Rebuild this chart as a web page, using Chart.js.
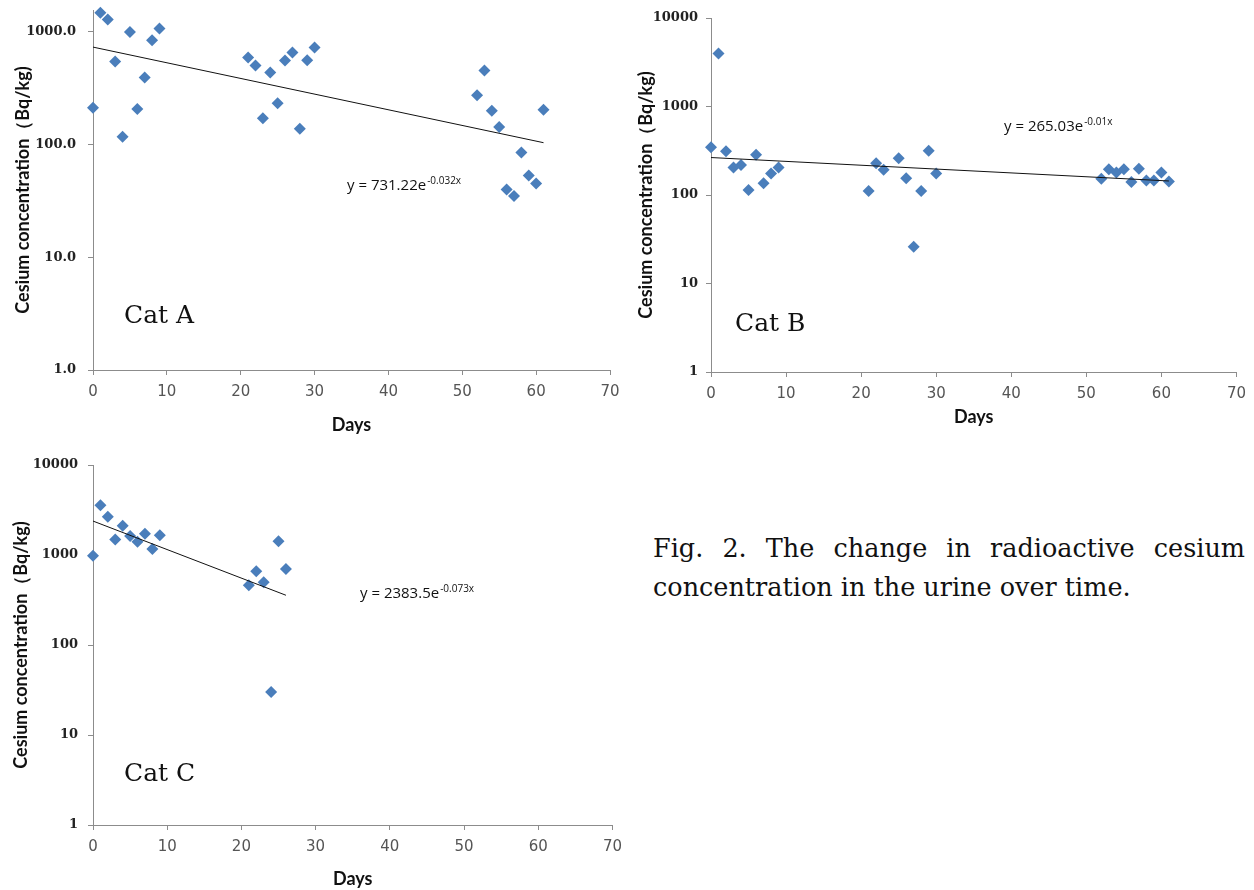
<!DOCTYPE html>
<html lang="en">
<head>
    <meta charset="UTF-8">
    <title>Cesium concentration in urine</title>
    <style>
        body { margin: 0; background: #fff; width: 1254px; height: 890px; position: relative; overflow: hidden; }
        .box { position: absolute; }
        #boxA { left: 0; top: 0; width: 630px; height: 440px; }
        #boxB { left: 630px; top: 0; width: 624px; height: 440px; }
        #boxC { left: 0; top: 440px; width: 630px; height: 450px; }
        .caption { position: absolute; left: 653px; top: 529px; width: 592px; font-family: "DejaVu Serif", serif; font-size: 25.5px; line-height: 39px; text-align: justify; color: #111; }
    </style>
</head>
<body>
    <div class="box" id="boxA"><canvas id="chartA"></canvas></div>
    <div class="box" id="boxB"><canvas id="chartB"></canvas></div>
    <div class="box" id="boxC"><canvas id="chartC"></canvas></div>
    <div class="caption">Fig. 2. The change in radioactive cesium concentration in the urine over time.</div>

    <script src="https://cdn.jsdelivr.net/npm/chart.js"></script>
    <script>
        // Cat A
        const daysA = [0, 1, 2, 3, 4, 5, 6, 7, 8, 9, 21, 22, 23, 24, 25, 26, 27, 28, 29, 30, 52, 53, 54, 55, 56, 57, 58, 59, 60, 61];
        const cesiumA = [212, 1475, 1285, 545, 117, 995, 207, 393, 842, 1070, 591, 502, 171, 435, 232, 556, 655, 138, 560, 726, 274, 453, 199, 143, 40, 35, 85, 53, 45, 203];
        const trendDaysA = [0, 61];
        const trendA = [731.22, 103.8];

        // Cat B
        const daysB = [0, 1, 2, 3, 4, 5, 6, 7, 8, 9, 21, 22, 23, 25, 26, 27, 28, 29, 30, 52, 53, 54, 55, 56, 57, 58, 59, 60, 61];
        const cesiumB = [347, 3960, 313, 205, 218, 114, 285, 136, 175, 205, 111, 228, 193, 261, 155, 26, 111, 316, 175, 153, 195, 180, 195, 140, 198, 146, 146, 179, 142];
        const trendDaysB = [0, 61];
        const trendB = [265.03, 144];

        // Cat C
        const daysC = [0, 1, 2, 3, 4, 5, 6, 7, 8, 9, 21, 22, 23, 24, 25, 26];
        const cesiumC = [980, 3560, 2660, 1490, 2110, 1625, 1405, 1720, 1165, 1655, 460, 659, 498, 30, 1420, 700];
        const trendDaysC = [0, 26];
        const trendC = [2383.5, 357];

        // tick labels
        const xTicks = [0, 10, 20, 30, 40, 50, 60, 70];
        const yTicksA = [1, 10, 100, 1000];
        const yTicksBC = [1, 10, 100, 1000, 10000];

        const axisColor = '#8c8c8c';
        const pointColor = '#4A7EBB';

        function pts(xs, ys) {
            return xs.map((x, i) => ({ x: x, y: ys[i] }));
        }

        // draws "Cat X" and the trendline equation
        function notes(cat, eq) {
            return {
                id: 'notes',
                afterDraw(chart) {
                    const ctx = chart.ctx;
                    ctx.save();
                    ctx.fillStyle = '#111';
                    ctx.textBaseline = 'middle';
                    ctx.textAlign = 'left';
                    ctx.font = '25px "DejaVu Serif", serif';
                    ctx.fillText(cat.text, cat.x, cat.y);
                    ctx.font = '15px "Open Sans", sans-serif';
                    ctx.fillText(eq.main, eq.x, eq.y);
                    const w = ctx.measureText(eq.main).width;
                    ctx.font = '10px "Open Sans", sans-serif';
                    ctx.fillText(eq.sup, eq.x + w + 1, eq.y - 5);
                    ctx.restore();
                }
            };
        }

        function makeChart(id, c) {
            return new Chart(document.getElementById(id), {
                type: 'scatter',
                data: {
                    datasets: [
                        { type: 'line', data: pts(c.trendDays, c.trend), borderColor: '#111', borderWidth: 1, pointRadius: 0, fill: false, tension: 0, clip: false },
                        { data: pts(c.days, c.values), pointStyle: 'rectRot', pointRadius: 6, pointHoverRadius: 6, backgroundColor: pointColor, borderColor: pointColor, borderWidth: 0, clip: false }
                    ]
                },
                options: {
                    responsive: true,
                    maintainAspectRatio: false,
                    animation: false,
                    layout: { padding: c.padding },
                    plugins: { legend: { display: false }, tooltip: { enabled: false } },
                    scales: {
                        x: {
                            type: 'linear', min: 0, max: 70,
                            afterBuildTicks: s => { s.ticks = xTicks.map(v => ({ value: v })); },
                            afterFit: s => { s.height = c.xHeight; },
                            border: { color: axisColor },
                            grid: { drawOnChartArea: false, color: axisColor, tickLength: 5 },
                            ticks: { color: '#555', font: { family: 'DejaVu Sans', size: 15 }, padding: 8, maxRotation: 0, autoSkip: false },
                            title: { display: true, text: 'Days', color: '#111', font: { family: 'Lato', size: 18, weight: 'bold' }, padding: { top: 0, bottom: c.daysPad } }
                        },
                        y: {
                            type: 'logarithmic', min: 1, max: c.yMax,
                            afterBuildTicks: s => { s.ticks = c.yTicks.map(v => ({ value: v })); },
                            afterFit: s => { s.width = c.yWidth; s.paddingTop = 0; s.paddingBottom = 0; },
                            border: { color: axisColor },
                            grid: { drawOnChartArea: false, color: axisColor, tickLength: 5 },
                            ticks: { color: '#222', font: { family: 'DejaVu Serif', size: 13, weight: 'bold' }, padding: c.yPad, autoSkip: false, callback: v => c.yFmt(v) },
                            title: { display: true, text: 'Cesium concentration（Bq/kg)', color: '#111', font: { family: 'Lato', size: 18, weight: 'bold' }, padding: { top: c.titlePad, bottom: 0 } }
                        }
                    }
                },
                plugins: [notes(c.cat, c.eq)]
            });
        }

        makeChart('chartA', {
            days: daysA, values: cesiumA, trendDays: trendDaysA, trend: trendA,
            yTicks: yTicksA, yMax: 1560, yFmt: v => v.toFixed(1),
            padding: { left: 0, top: 10, right: 20, bottom: 0 },
            yWidth: 93, xHeight: 70, yPad: 12, titlePad: 12, daysPad: 4,
            cat: { text: 'Cat A', x: 124, y: 316 },
            eq: { main: 'y = 731.22e', sup: '-0.032x', x: 347, y: 186 }
        });

        makeChart('chartB', {
            days: daysB, values: cesiumB, trendDays: trendDaysB, trend: trendB,
            yTicks: yTicksBC, yMax: 10000, yFmt: v => String(v),
            padding: { left: 0, top: 18, right: 16, bottom: 0 },
            yWidth: 81, xHeight: 68, yPad: 8, titlePad: 5, daysPad: 12,
            cat: { text: 'Cat B', x: 105, y: 324 },
            eq: { main: 'y = 265.03e', sup: '-0.01x', x: 374, y: 127 }
        });

        makeChart('chartC', {
            days: daysC, values: cesiumC, trendDays: trendDaysC, trend: trendC,
            yTicks: yTicksBC, yMax: 10000, yFmt: v => String(v),
            padding: { left: 0, top: 25, right: 13, bottom: 0 },
            yWidth: 93, xHeight: 65, yPad: 10, titlePad: 10, daysPad: 0,
            cat: { text: 'Cat C', x: 124, y: 334 },
            eq: { main: 'y = 2383.5e', sup: '-0.073x', x: 360, y: 154 }
        });
    </script>
</body>
</html>
